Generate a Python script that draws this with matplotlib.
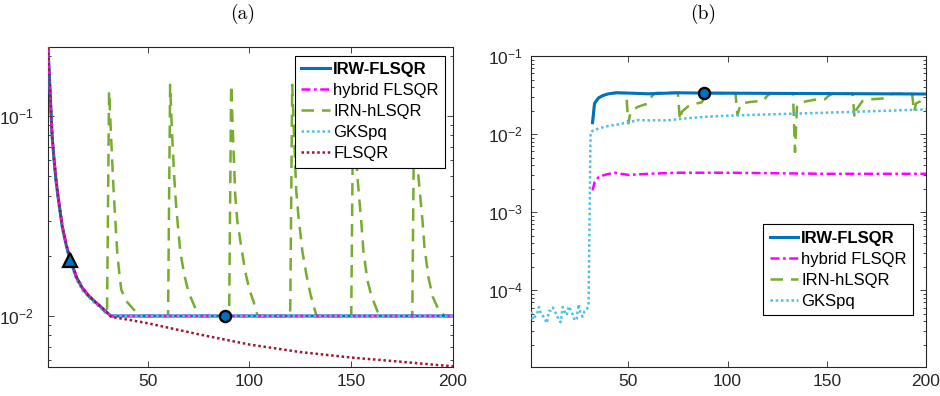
import numpy as np
import matplotlib
matplotlib.use("Agg")
import matplotlib.pyplot as plt
from matplotlib.ticker import LogLocator, NullFormatter, FixedLocator

plt.rcParams['font.family'] = ['Liberation Sans', 'DejaVu Sans']
plt.rcParams['mathtext.fontset'] = 'custom'
plt.rcParams['mathtext.rm'] = 'Liberation Sans'
plt.rcParams['mathtext.it'] = 'Liberation Sans:italic'
plt.rcParams['mathtext.bf'] = 'Liberation Sans:bold'

# ---------------- data: panel (a) ----------------
k_a_common = [1, 2, 3, 4, 5, 6, 7, 8, 10, 12, 15, 18, 21, 24, 27, 30, 32, 200]
irw_a = [0.22, 0.135, 0.08, 0.06, 0.047, 0.039, 0.033, 0.028, 0.0225, 0.019, 0.0156,
         0.0137, 0.0126, 0.0118, 0.0111, 0.0104, 0.0100, 0.0100]
hyb_a = [0.22, 0.136, 0.081, 0.061, 0.048, 0.040, 0.0335, 0.0285, 0.0228, 0.0192, 0.0157,
         0.0138, 0.0127, 0.0118, 0.0111, 0.0104, 0.0100, 0.0100]
gks_a = [0.22, 0.133, 0.079, 0.059, 0.046, 0.038, 0.0325, 0.0275, 0.0220, 0.0186, 0.0152,
         0.0134, 0.0124, 0.0116, 0.0109, 0.0103, 0.0100, 0.0100]

k_a_flsqr = [1, 2, 3, 4, 5, 6, 7, 8, 10, 12, 15, 18, 21, 24, 27, 30, 32, 40, 50, 75,
             100, 125, 150, 175, 200]
flsqr_a = [0.22, 0.135, 0.08, 0.06, 0.047, 0.039, 0.033, 0.028, 0.0225, 0.019, 0.0156,
           0.0137, 0.0126, 0.0118, 0.0111, 0.0104, 0.0099, 0.0096, 0.0092, 0.0081,
           0.0072, 0.0066, 0.0062, 0.0059, 0.0056]

k_a_irn = [1, 2, 3, 4, 5, 6, 7, 8, 10, 12, 15, 18, 21, 24, 27, 30,
           31, 32, 33, 34, 35, 36, 37, 40, 43, 47, 60,
           61, 62, 63, 64, 66, 68, 70, 72, 75, 90,
           91, 92, 93, 94, 96, 98, 100, 102, 104, 120,
           121, 122, 123, 124, 126, 128, 130, 132, 133, 150,
           151, 152, 153, 155, 156, 158, 160, 163, 165, 180,
           181, 182, 183, 185, 186, 188, 190, 193, 196, 200]
irn_a = [0.22, 0.135, 0.08, 0.06, 0.047, 0.039, 0.033, 0.028, 0.0225, 0.019, 0.0156,
         0.0137, 0.0126, 0.0118, 0.0111, 0.0101,
         0.133, 0.079, 0.047, 0.031, 0.021, 0.0165, 0.0135, 0.0117, 0.0108, 0.0100, 0.0100,
         0.143, 0.080, 0.050, 0.035, 0.021, 0.016, 0.0132, 0.0118, 0.0100, 0.0100,
         0.143, 0.075, 0.040, 0.030, 0.022, 0.0165, 0.0135, 0.0118, 0.0100, 0.0100,
         0.143, 0.075, 0.042, 0.032, 0.021, 0.016, 0.0128, 0.0108, 0.0100, 0.0100,
         0.143, 0.080, 0.050, 0.029, 0.021, 0.015, 0.0125, 0.0105, 0.0100, 0.0100,
         0.143, 0.080, 0.050, 0.030, 0.022, 0.0155, 0.0125, 0.0107, 0.0100, 0.0100]

tri_k_a, tri_v_a = [12], [0.019]
circ_k_a, circ_v_a = [88], [0.0100]

# ---------------- data: panel (b) ----------------
k_b_irw = [32, 33, 35, 37, 40, 44, 50, 60, 75, 88, 100, 125, 150, 175, 200]
irw_b = [0.014, 0.0247, 0.029, 0.031, 0.0328, 0.0338, 0.0335, 0.0328, 0.0338, 0.0335,
         0.0334, 0.0332, 0.0330, 0.0328, 0.0326]

k_b_hyb = [32, 33, 35, 38, 43, 50, 60, 75, 100, 150, 200]
hyb_b = [0.0019, 0.0024, 0.0028, 0.0030, 0.0032, 0.0030, 0.0031, 0.0032, 0.0032,
         0.0031, 0.0031]

k_b_irn = [32, 33, 35, 37, 40, 44, 49,
           50, 51, 53, 55, 58, 60, 62, 64, 75,
           76, 77, 80, 83, 87, 89, 91, 104,
           105, 106, 107, 112, 118, 120, 122, 133,
           134, 135, 137, 144, 149, 151, 153, 163,
           164, 165, 168, 173, 179, 181, 183, 193,
           194, 195, 197, 200]
irn_b = [0.014, 0.0247, 0.029, 0.031, 0.0328, 0.0338, 0.0335,
         0.0137, 0.0184, 0.021, 0.0224, 0.0238, 0.0245, 0.031, 0.0336, 0.0338,
         0.0151, 0.0193, 0.0225, 0.0242, 0.0255, 0.031, 0.0335, 0.0335,
         0.0175, 0.0215, 0.0248, 0.0259, 0.0267, 0.031, 0.0333, 0.0333,
         0.0059, 0.0224, 0.0255, 0.0276, 0.0278, 0.031, 0.0331, 0.0330,
         0.0163, 0.0207, 0.0265, 0.0280, 0.0287, 0.031, 0.0329, 0.0328,
         0.0193, 0.0247, 0.0262, 0.0326]

k_b_gks = list(range(1, 31)) + [31, 32, 35, 40, 45, 50, 55, 60, 70, 80, 90, 100, 125,
                                150, 175, 200]
gks_b = [5.3e-5, 4.2e-5, 4.6e-5, 4.9e-5, 6.1e-5, 5.0e-5, 4.7e-5, 4.3e-5, 3.8e-5, 5.4e-5,
         5.5e-5, 6.0e-5, 5.3e-5, 4.9e-5, 4.1e-5, 3.9e-5, 6.1e-5, 5.3e-5, 4.8e-5, 6.2e-5,
         5.6e-5, 4.9e-5, 4.1e-5, 4.3e-5, 6.6e-5, 5.0e-5, 4.6e-5, 5.4e-5, 5.6e-5, 6.4e-5,
         0.0105, 0.0110, 0.0118, 0.0127, 0.0133, 0.0142, 0.0151, 0.0150, 0.0150, 0.0160,
         0.0167, 0.0172, 0.0180, 0.0188, 0.0197, 0.0207]

circ_k_b, circ_v_b = [88], [0.0334]

labels = ['IRW-FLSQR', 'hybrid FLSQR', 'IRN-hLSQR', 'GKSpq', 'FLSQR']
x_ticks = [50, 100, 150, 200]

# ---------------- styles ----------------
C_BLUE = (0.0, 0.447, 0.741)
C_MAG = (1.0, 0.0, 1.0)
C_GRN = (0.466, 0.674, 0.188)
C_CYAN = (0.30, 0.745, 0.933)
C_RED = (0.635, 0.078, 0.184)
AXC = '0.15'

fig = plt.figure(figsize=(9.4, 3.96), dpi=100)
axA = fig.add_axes([48 / 940, 29 / 396, 405 / 940, 320 / 396])
axB = fig.add_axes([531 / 940, 29 / 396, 395 / 940, 311 / 396])


def style_axes(ax, ylim, yticks, ypad):
    ax.set_yscale('log')
    ax.set_xlim(1, 200)
    ax.set_ylim(*ylim)
    ax.set_xticks(x_ticks)
    ax.set_xticklabels([str(t) for t in x_ticks])
    ax.yaxis.set_major_locator(FixedLocator(yticks))
    ax.yaxis.set_minor_locator(LogLocator(base=10, subs=np.arange(2, 10), numticks=20))
    ax.yaxis.set_minor_formatter(NullFormatter())
    ax.tick_params(which='both', direction='in', top=True, right=True, color=AXC,
                   labelcolor=AXC, labelsize=12.5, width=0.6)
    ax.tick_params(which='major', length=4.5)
    ax.tick_params(which='minor', length=2.5)
    ax.tick_params(axis='y', which='major', pad=ypad)
    ax.tick_params(axis='x', which='major', pad=5)
    for s in ax.spines.values():
        s.set_color(AXC)
        s.set_linewidth(0.8)


# Panel (a)
lw = 1.8
DASH = (5.0, 3.2)
DASHDOT = (3.6, 1.4, 1.1, 1.4)
DOT = (1, 1.1)
l_irn_a, = axA.plot(k_a_irn, irn_a, color=C_GRN, lw=lw, dashes=DASH, zorder=2,
                    label=labels[2])
l_irw_a, = axA.plot(k_a_common, irw_a, color=C_BLUE, lw=2.2, zorder=3, label=labels[0])
l_hyb_a, = axA.plot(k_a_common, hyb_a, color=C_MAG, lw=lw, dashes=DASHDOT,
                    zorder=4, label=labels[1])
l_gks_a, = axA.plot(k_a_common, gks_a, color=C_CYAN, lw=lw, dashes=DOT, zorder=5,
                    label=labels[3])
l_fl_a, = axA.plot(k_a_flsqr, flsqr_a, color=C_RED, lw=lw, dashes=DOT, zorder=6,
                   label=labels[4])
axA.plot(tri_k_a, tri_v_a, linestyle='none', marker='^', ms=9.5, mfc=C_BLUE, mec='k',
         mew=1.6, zorder=8)
axA.plot(circ_k_a, circ_v_a, linestyle='none', marker='o', ms=8, mfc=C_BLUE, mec='k',
         mew=1.7, zorder=8)
style_axes(axA, (0.00556, 0.221), [1e-2, 1e-1], 10)

leg_kw = dict(bbox_transform=fig.transFigure, borderaxespad=0, fontsize=12,
              handlelength=1.7, handletextpad=0.2, labelspacing=0.36,
              borderpad=0.38, fancybox=False, framealpha=1, edgecolor='k')
legA = axA.legend([l_irw_a, l_hyb_a, l_irn_a, l_gks_a, l_fl_a],
                  [labels[0], labels[1], labels[2], labels[3], labels[4]],
                  loc='upper right', bbox_to_anchor=(445 / 940, 340 / 396), **leg_kw)
legA.get_frame().set_linewidth(0.8)
legA.get_texts()[0].set_fontweight('bold')

# Panel (b)
l_irn_b, = axB.plot(k_b_irn, irn_b, color=C_GRN, lw=lw, dashes=DASH, zorder=2,
                    label=labels[2])
l_gks_b, = axB.plot(k_b_gks, gks_b, color=C_CYAN, lw=lw, dashes=DOT, zorder=3,
                    label=labels[3])
l_hyb_b, = axB.plot(k_b_hyb, hyb_b, color=C_MAG, lw=lw, dashes=DASHDOT,
                    zorder=4, label=labels[1])
l_irw_b, = axB.plot(k_b_irw, irw_b, color=C_BLUE, lw=2.2, zorder=5, label=labels[0])
axB.plot(circ_k_b, circ_v_b, linestyle='none', marker='o', ms=8, mfc=C_BLUE, mec='k',
         mew=1.7, zorder=8)
style_axes(axB, (1.04e-5, 1e-1), [1e-4, 1e-3, 1e-2, 1e-1], 6)

legB = axB.legend([l_irw_b, l_hyb_b, l_irn_b, l_gks_b],
                  [labels[0], labels[1], labels[2], labels[3]],
                  loc='lower right', bbox_to_anchor=(913 / 940, 81 / 396), **leg_kw)
legB.get_frame().set_linewidth(0.8)
legB.get_texts()[0].set_fontweight('bold')

fig.text(243 / 940, 1 - 14 / 396, '(a)', ha='center', va='center', family='cmr10',
         fontsize=14)
fig.text(703 / 940, 1 - 14 / 396, '(b)', ha='center', va='center', family='cmr10',
         fontsize=14)

fig.savefig('out.png', dpi=100)
